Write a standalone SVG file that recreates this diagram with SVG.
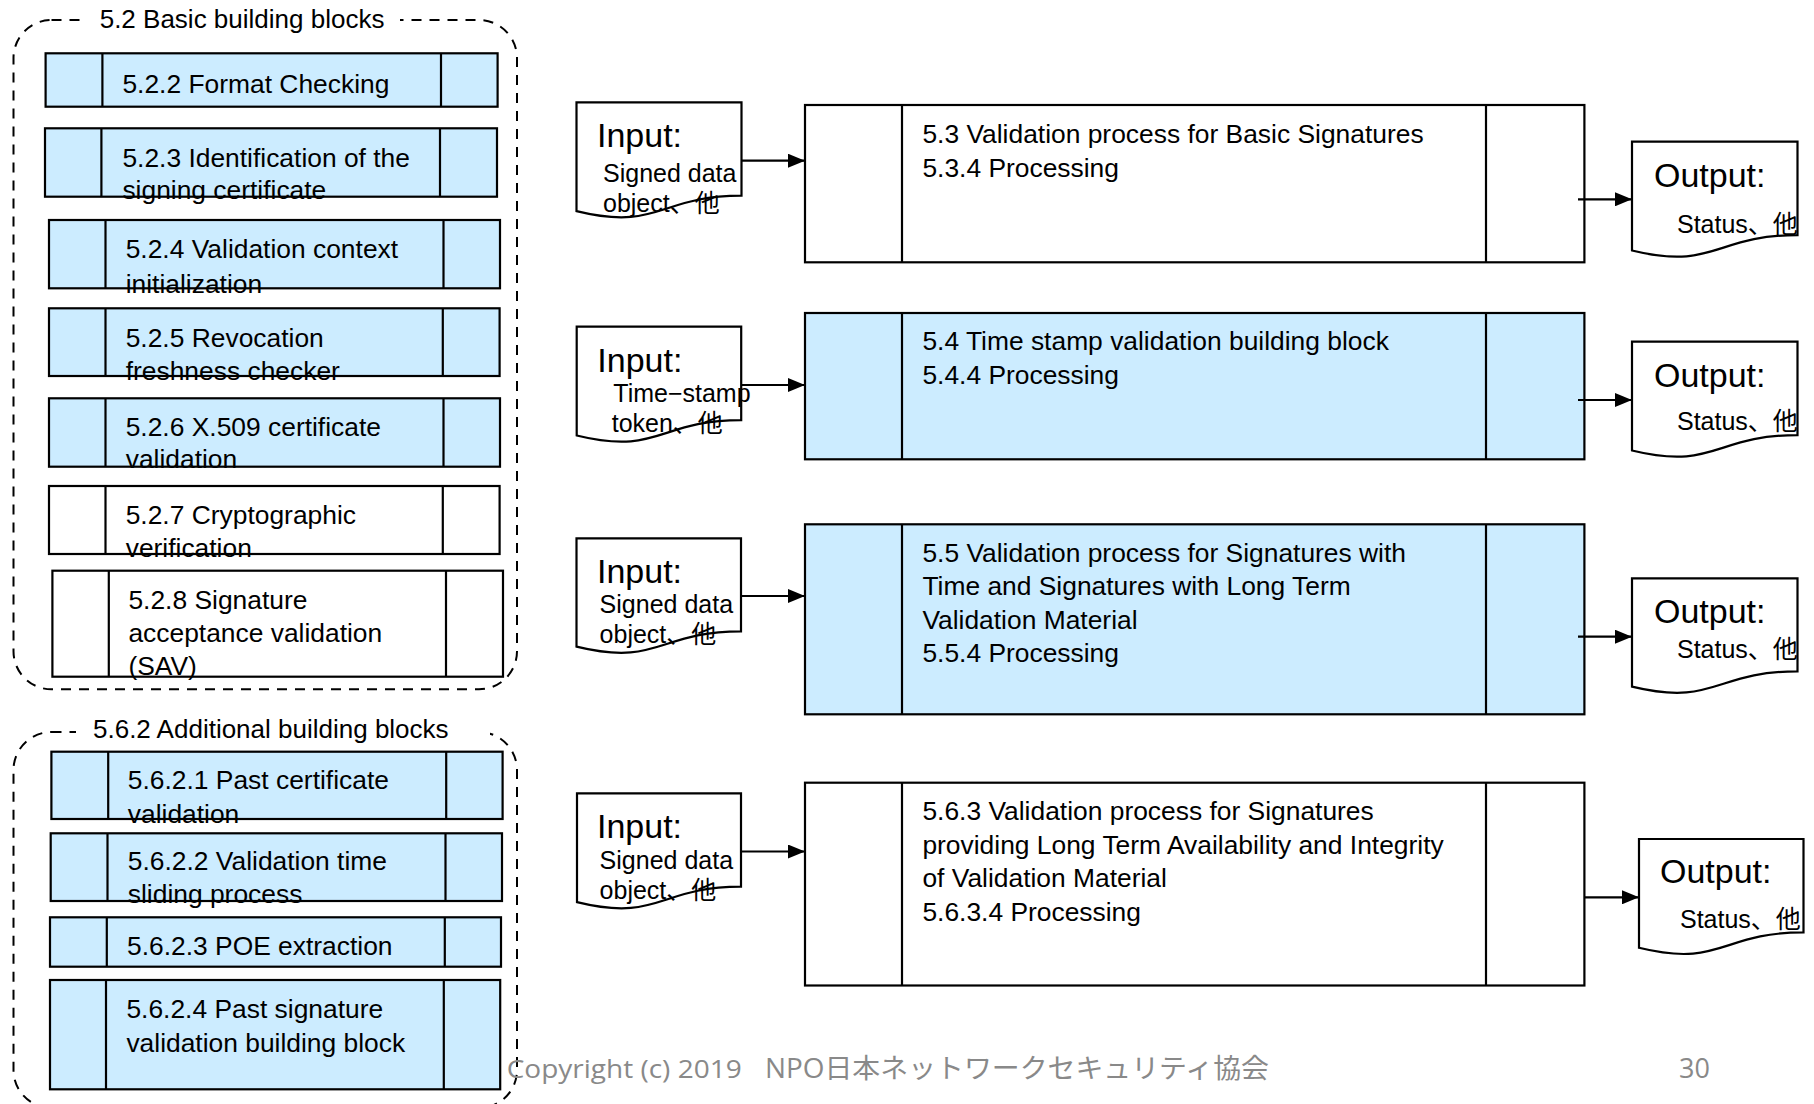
<svg xmlns="http://www.w3.org/2000/svg" width="1814" height="1104" viewBox="0 0 1814 1104">
  <defs>
    <style>
      .box { fill: #ffffff; stroke: #000000; stroke-width: 2.2; }
      .blue { fill: #CCECFF; }
      .div { stroke: #000000; stroke-width: 2.2; }
      .doc { fill: #ffffff; stroke: #000000; stroke-width: 2.2; stroke-linejoin: miter; }
      .grp { fill: none; stroke: #000000; stroke-width: 2; stroke-dasharray: 10 8; }
      .t { font-family: "Liberation Sans", "Noto Sans CJK JP", sans-serif; font-size: 26.4px; fill: #000000; }
      .title { font-family: "Liberation Sans", "Noto Sans CJK JP", sans-serif; font-size: 26px; fill: #000000; }
      .lbl { font-family: "Liberation Sans", "Noto Sans CJK JP", sans-serif; font-size: 34px; fill: #000000; }
      .sm { font-family: "Liberation Sans", "Noto Sans CJK JP", sans-serif; font-size: 25px; fill: #000000; }
      .conn { stroke: #000000; stroke-width: 2.2; fill: none; marker-end: url(#ah); }
      .foot { font-family: "Open Sans", "Noto Sans CJK JP", sans-serif; fill: #898989; }
    </style>
    <marker id="ah" markerUnits="userSpaceOnUse" markerWidth="17" markerHeight="14" refX="17" refY="7" orient="auto">
      <path d="M0,0 L17,7 L0,14 Z" fill="#000000"/>
    </marker>
  </defs>

  <rect width="1814" height="1104" fill="#ffffff"/>

  <!-- group frame: 5.2 basic building blocks -->
  <g id="grp-basic">
    <rect class="grp" x="13.5" y="20" width="503.5" height="669.3" rx="38"/>
    <rect x="82" y="6" width="318" height="28" fill="#ffffff"/>
    <text class="title" x="99.7" y="28.3">5.2 Basic building blocks</text>
  </g>

  <!-- group frame: 5.6.2 additional building blocks -->
  <g id="grp-additional">
    <rect class="grp" x="13.5" y="732" width="503.5" height="376" rx="38"/>
    <rect x="76" y="716" width="414" height="30" fill="#ffffff"/>
    <text class="title" x="93" y="738.3">5.6.2 Additional building blocks</text>
  </g>

  <!-- basic building blocks -->
  <g id="bb-522">
    <rect class="box blue" x="45.6" y="53.3" width="452" height="53.4"/>
    <line class="div" x1="102.4" y1="53.3" x2="102.4" y2="106.7"/>
    <line class="div" x1="441" y1="53.3" x2="441" y2="106.7"/>
    <text class="t" x="122.4" y="92.7">5.2.2 Format Checking</text>
  </g>
  <g id="bb-523">
    <rect class="box blue" x="45" y="128.3" width="452" height="68.4"/>
    <line class="div" x1="101.4" y1="128.3" x2="101.4" y2="196.7"/>
    <line class="div" x1="440" y1="128.3" x2="440" y2="196.7"/>
    <text class="t" x="122.4" y="166.7">5.2.3 Identification of the</text>
    <text class="t" x="122.4" y="199.3">signing certificate</text>
  </g>
  <g id="bb-524">
    <rect class="box blue" x="49" y="220" width="451" height="68.3"/>
    <line class="div" x1="105.5" y1="220" x2="105.5" y2="288.3"/>
    <line class="div" x1="443.5" y1="220" x2="443.5" y2="288.3"/>
    <text class="t" x="125.7" y="258.3">5.2.4 Validation context</text>
    <text class="t" x="125.7" y="292.7">initialization</text>
  </g>
  <g id="bb-525">
    <rect class="box blue" x="49" y="308.3" width="450.6" height="67.7"/>
    <line class="div" x1="105.5" y1="308.3" x2="105.5" y2="376"/>
    <line class="div" x1="442.8" y1="308.3" x2="442.8" y2="376"/>
    <text class="t" x="125.7" y="346.7">5.2.5 Revocation</text>
    <text class="t" x="125.7" y="380">freshness checker</text>
  </g>
  <g id="bb-526">
    <rect class="box blue" x="49" y="398.3" width="451" height="68.4"/>
    <line class="div" x1="105.5" y1="398.3" x2="105.5" y2="466.7"/>
    <line class="div" x1="443.5" y1="398.3" x2="443.5" y2="466.7"/>
    <text class="t" x="125.7" y="435.7">5.2.6 X.509 certificate</text>
    <text class="t" x="125.7" y="468.3">validation</text>
  </g>
  <g id="bb-527">
    <rect class="box" x="49" y="486" width="450.6" height="68"/>
    <line class="div" x1="105.5" y1="486" x2="105.5" y2="554"/>
    <line class="div" x1="442.8" y1="486" x2="442.8" y2="554"/>
    <text class="t" x="125.7" y="524.3">5.2.7 Cryptographic</text>
    <text class="t" x="125.7" y="556.7">verification</text>
  </g>
  <g id="bb-528">
    <rect class="box" x="52.4" y="570.7" width="450.6" height="106"/>
    <line class="div" x1="108.8" y1="570.7" x2="108.8" y2="676.7"/>
    <line class="div" x1="446" y1="570.7" x2="446" y2="676.7"/>
    <text class="t" x="128.4" y="609.3">5.2.8 Signature</text>
    <text class="t" x="128.4" y="641.7">acceptance validation</text>
    <text class="t" x="128.4" y="675">(SAV)</text>
  </g>

  <!-- additional building blocks -->
  <g id="bb-5621">
    <rect class="box blue" x="51.4" y="751.7" width="451.2" height="67.3"/>
    <line class="div" x1="108.2" y1="751.7" x2="108.2" y2="819"/>
    <line class="div" x1="446.2" y1="751.7" x2="446.2" y2="819"/>
    <text class="t" x="127.8" y="789.3">5.6.2.1 Past certificate</text>
    <text class="t" x="127.8" y="822.7">validation</text>
  </g>
  <g id="bb-5622">
    <rect class="box blue" x="50.7" y="833.3" width="451.3" height="67.7"/>
    <line class="div" x1="107.5" y1="833.3" x2="107.5" y2="901"/>
    <line class="div" x1="445.5" y1="833.3" x2="445.5" y2="901"/>
    <text class="t" x="127.8" y="870">5.6.2.2 Validation time</text>
    <text class="t" x="127.8" y="902.7">sliding process</text>
  </g>
  <g id="bb-5623">
    <rect class="box blue" x="50" y="917.3" width="451" height="49.4"/>
    <line class="div" x1="106.8" y1="917.3" x2="106.8" y2="966.7"/>
    <line class="div" x1="444.8" y1="917.3" x2="444.8" y2="966.7"/>
    <text class="t" x="127" y="955">5.6.2.3 POE extraction</text>
  </g>
  <g id="bb-5624">
    <rect class="box blue" x="50" y="980" width="450.2" height="109.3"/>
    <line class="div" x1="106" y1="980" x2="106" y2="1089.3"/>
    <line class="div" x1="443.8" y1="980" x2="443.8" y2="1089.3"/>
    <text class="t" x="126.4" y="1018.3">5.6.2.4 Past signature</text>
    <text class="t" x="126.4" y="1051.7">validation building block</text>
  </g>

  <!-- validation processes -->
  <g id="proc-53">
    <rect class="box" x="805" y="105" width="779.4" height="157.3"/>
    <line class="div" x1="902" y1="105" x2="902" y2="262.3"/>
    <line class="div" x1="1486" y1="105" x2="1486" y2="262.3"/>
    <text class="t" x="922.4" y="143.3">5.3 Validation process for Basic Signatures</text>
    <text class="t" x="922.4" y="177">5.3.4 Processing</text>
  </g>
  <g id="proc-54">
    <rect class="box blue" x="805" y="313" width="779.4" height="146.3"/>
    <line class="div" x1="902" y1="313" x2="902" y2="459.3"/>
    <line class="div" x1="1486" y1="313" x2="1486" y2="459.3"/>
    <text class="t" x="922.4" y="350">5.4 Time stamp validation building block</text>
    <text class="t" x="922.4" y="383.5">5.4.4 Processing</text>
  </g>
  <g id="proc-55">
    <rect class="box blue" x="805" y="524.3" width="779.4" height="190"/>
    <line class="div" x1="902" y1="524.3" x2="902" y2="714.3"/>
    <line class="div" x1="1486" y1="524.3" x2="1486" y2="714.3"/>
    <text class="t" x="922.4" y="561.7">5.5 Validation process for Signatures with</text>
    <text class="t" x="922.4" y="595.2">Time and Signatures with Long Term</text>
    <text class="t" x="922.4" y="628.7">Validation Material</text>
    <text class="t" x="922.4" y="662.2">5.5.4 Processing</text>
  </g>
  <g id="proc-563">
    <rect class="box" x="805" y="782.7" width="779.4" height="202.8"/>
    <line class="div" x1="902" y1="782.7" x2="902" y2="985.5"/>
    <line class="div" x1="1486" y1="782.7" x2="1486" y2="985.5"/>
    <text class="t" x="922.4" y="820">5.6.3 Validation process for Signatures</text>
    <text class="t" x="922.4" y="853.5">providing Long Term Availability and Integrity</text>
    <text class="t" x="922.4" y="887">of Validation Material</text>
    <text class="t" x="922.4" y="920.5">5.6.3.4 Processing</text>
  </g>

  <!-- inputs -->
  <g id="in-53">
    <path class="doc" d="M576.5,102.3 H741.5 V195.7 C659,195.7 659,231.3 576.5,211.1 Z"/>
    <text class="lbl" x="597" y="146.7">Input:</text>
    <text class="sm" x="603" y="181.7">Signed data</text>
    <text class="sm" x="603" y="211.7">object、他</text>
  </g>
  <g id="in-54">
    <path class="doc" d="M576.7,326.7 H741.2 V420.1 C659,420.1 659,455.7 576.7,435.5 Z"/>
    <text class="lbl" x="597.3" y="371.7">Input:</text>
    <text class="sm" x="613.3" y="401.7">Time−stamp</text>
    <text class="sm" x="611.7" y="431.7">token、他</text>
  </g>
  <g id="in-55">
    <path class="doc" d="M576.5,538.3 H741 V631.3 C658.8,631.3 658.8,666.8 576.5,646.6 Z"/>
    <text class="lbl" x="597" y="583.3">Input:</text>
    <text class="sm" x="599.6" y="613.3">Signed data</text>
    <text class="sm" x="599.6" y="643.3">object、他</text>
  </g>
  <g id="in-563">
    <path class="doc" d="M577,793.3 H741 V886.7 C659,886.7 659,922.3 577,902.1 Z"/>
    <text class="lbl" x="597" y="838.3">Input:</text>
    <text class="sm" x="599.6" y="868.7">Signed data</text>
    <text class="sm" x="599.6" y="898.7">object、他</text>
  </g>

  <!-- outputs -->
  <g id="out-53">
    <path class="doc" d="M1632,141.7 H1797.5 V235.1 C1714.8,235.1 1714.8,270.7 1632,250.5 Z"/>
    <text class="lbl" x="1654" y="186.7">Output:</text>
    <text class="sm" x="1677" y="233.3">Status、他</text>
  </g>
  <g id="out-54">
    <path class="doc" d="M1632,341.7 H1797.5 V435.1 C1714.8,435.1 1714.8,470.7 1632,450.5 Z"/>
    <text class="lbl" x="1654" y="386.7">Output:</text>
    <text class="sm" x="1677" y="430">Status、他</text>
  </g>
  <g id="out-55">
    <path class="doc" d="M1632,578.3 H1797.5 V671.3 C1714.8,671.3 1714.8,706.8 1632,686.6 Z"/>
    <text class="lbl" x="1654" y="623.3">Output:</text>
    <text class="sm" x="1677" y="658.3">Status、他</text>
  </g>
  <g id="out-563">
    <path class="doc" d="M1639,839 H1803.5 V932.4 C1721.3,932.4 1721.3,968 1639,947.8 Z"/>
    <text class="lbl" x="1660" y="883.3">Output:</text>
    <text class="sm" x="1680" y="928.3">Status、他</text>
  </g>

  <!-- connectors -->
  <g id="connectors">
    <line class="conn" x1="741.5" y1="160.7" x2="805" y2="160.7"/>
    <line class="conn" x1="741.2" y1="385" x2="805" y2="385"/>
    <line class="conn" x1="741" y1="596" x2="805" y2="596"/>
    <line class="conn" x1="741" y1="851.5" x2="805" y2="851.5"/>
    <line class="conn" x1="1578" y1="199.3" x2="1632" y2="199.3"/>
    <line class="conn" x1="1578" y1="400" x2="1632" y2="400"/>
    <line class="conn" x1="1578" y1="636.7" x2="1632" y2="636.7"/>
    <line class="conn" x1="1584" y1="897.3" x2="1639" y2="897.3"/>
  </g>

  <!-- footer -->
  <g id="footer">
    <text class="foot" y="1078" font-size="25">
      <tspan x="506.7" textLength="235" lengthAdjust="spacingAndGlyphs">Copyright (c) 2019</tspan>
      <tspan x="765" font-size="27" textLength="504" lengthAdjust="spacingAndGlyphs">NPO日本ネットワークセキュリティ協会</tspan>
    </text>
    <text class="foot" x="1679" y="1078" font-size="27">30</text>
  </g>
</svg>
